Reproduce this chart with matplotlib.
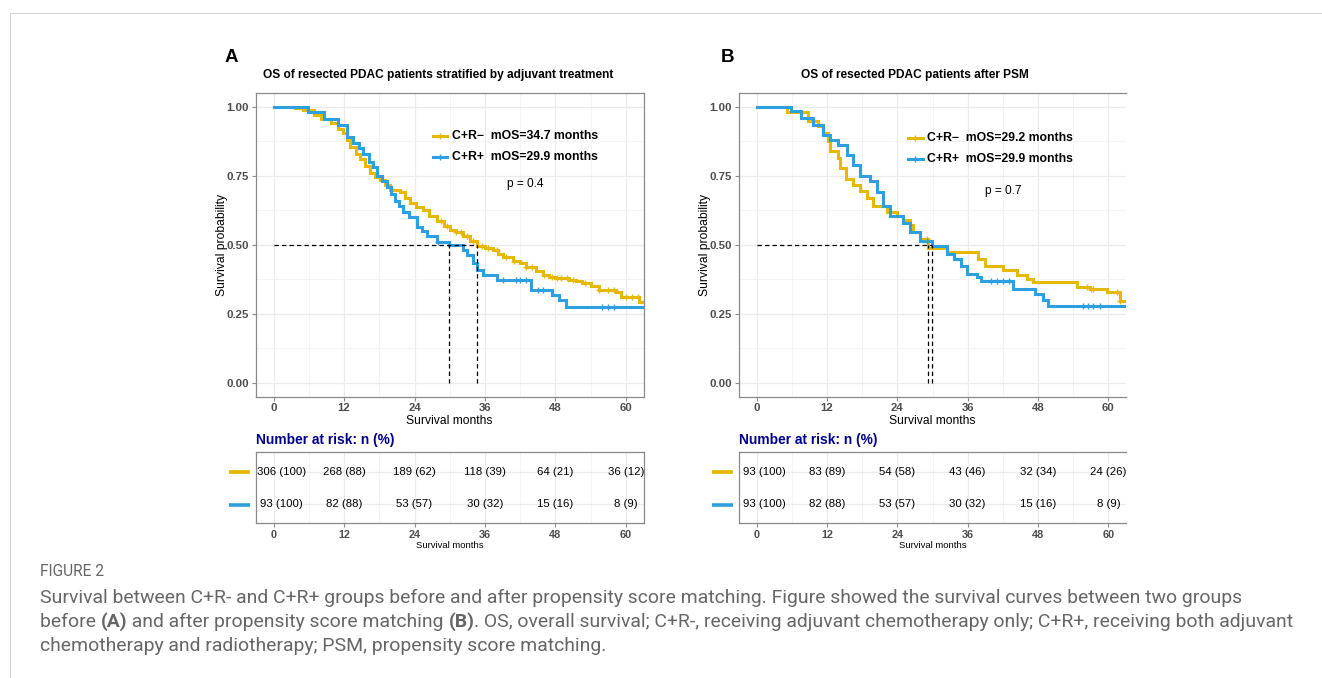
import matplotlib
matplotlib.use('Agg')
import matplotlib.pyplot as plt
from matplotlib.lines import Line2D
import numpy as np

plt.rcParams['font.family'] = ['Liberation Sans', 'DejaVu Sans']

W, H = 1322, 678
YEL = '#E7B800'
BLU = '#2E9FDF'
GRAY_TXT = '#4D4D4D'
CAP = '#666666'

# ---- panel A: before PSM (time in months, survival) ----
a_yel_t = [0, 3.7, 5.0, 6.8, 8.0, 9.7, 11.0, 11.9, 12.5, 13.0, 14.0, 14.7, 15.5, 16.4,
           17.2, 18.1, 19.0, 19.8, 21.5, 22.3, 23.2, 24.3, 25.4, 26.5, 27.8, 29.0,
           30.0, 31.0, 32.2, 33.5, 34.7, 36.0, 37.3, 38.2, 39.0, 40.7, 41.9, 43.0,
           44.7, 45.8, 46.9, 48.0, 50.3, 51.5, 52.5, 54.0, 55.4, 56.5, 58.3, 59.2,
           62.2, 70]
a_yel_s = [1.0, 0.995, 0.99, 0.97, 0.955, 0.94, 0.92, 0.905, 0.88, 0.855, 0.83, 0.81,
           0.785, 0.76, 0.745, 0.735, 0.715, 0.70, 0.69, 0.67, 0.65, 0.637, 0.627,
           0.605, 0.585, 0.568, 0.555, 0.545, 0.53, 0.515, 0.497, 0.49, 0.48, 0.468,
           0.457, 0.44, 0.435, 0.42, 0.405, 0.392, 0.384, 0.38, 0.373, 0.367, 0.362,
           0.352, 0.337, 0.335, 0.33, 0.312, 0.293, 0.293]
a_yel_cens = [28.5, 29.5, 31.0, 32.0, 33.0, 34.0, 35.5, 36.5, 38.0, 39.5, 41.0, 43.0,
              44.0, 46.0, 47.5, 48.3, 49.0, 50.0, 51.0, 53.0, 55.5, 57.0, 58.0, 60.0,
              61.0, 62.0]
a_blu_t = [0, 5.8, 8.5, 11.0, 12.5, 13.6, 14.5, 15.3, 16.2, 17.0, 17.6, 18.5, 19.3,
           20.0, 20.7, 21.4, 22.0, 23.0, 24.4, 25.2, 26.1, 27.8, 29.9, 32.3, 32.9,
           33.9, 34.7, 35.6, 38.0, 43.9, 47.5, 48.6, 49.8, 70]
a_blu_s = [1.0, 0.982, 0.957, 0.935, 0.89, 0.87, 0.85, 0.83, 0.80, 0.78, 0.75, 0.73,
           0.71, 0.685, 0.66, 0.64, 0.62, 0.60, 0.565, 0.55, 0.53, 0.51, 0.50, 0.48,
           0.464, 0.435, 0.41, 0.39, 0.373, 0.337, 0.319, 0.30, 0.275, 0.275]
a_blu_cens = [28.0, 39.0, 41.3, 42.0, 43.0, 45.0, 45.8, 56.0, 57.0, 58.0]
a_median = [34.7, 29.9]
a_pval = 'p = 0.4'
a_labels = ['C+R\u2212  mOS=34.7 months', 'C+R+  mOS=29.9 months']
a_risk_yel = ['306 (100)', '268 (88)', '189 (62)', '118 (39)', '64 (21)', '36 (12)']
a_risk_blu = ['93 (100)', '82 (88)', '53 (57)', '30 (32)', '15 (16)', '8 (9)']

# ---- panel B: after PSM ----
b_yel_t = [0, 5.2, 8.7, 10.4, 11.4, 12.1, 12.6, 13.8, 14.3, 15.2, 16.5, 17.7, 18.9,
           19.8, 22.3, 24.0, 25.0, 26.2, 26.7, 27.9, 29.2, 32.5, 37.8, 39.0, 42.0,
           44.4, 46.2, 47.2, 54.7, 56.9, 59.8, 62.0, 70]
b_yel_s = [1.0, 0.98, 0.95, 0.93, 0.905, 0.875, 0.84, 0.814, 0.777, 0.74, 0.715,
           0.693, 0.668, 0.642, 0.62, 0.605, 0.588, 0.57, 0.547, 0.52, 0.49, 0.475,
           0.449, 0.424, 0.41, 0.39, 0.376, 0.364, 0.346, 0.34, 0.328, 0.296, 0.296]
b_yel_cens = [29.0, 56.4, 57.0, 57.4, 61.5, 62.0]
b_blu_t = [0, 5.8, 7.5, 9.7, 11.4, 12.6, 13.8, 15.5, 16.5, 17.7, 19.4, 20.6, 21.6,
           22.8, 25.0, 26.2, 27.9, 29.9, 32.5, 33.6, 34.8, 35.9, 37.6, 38.2, 43.8,
           47.5, 48.9, 49.7, 70]
b_blu_s = [1.0, 0.985, 0.96, 0.934, 0.898, 0.88, 0.86, 0.825, 0.79, 0.75, 0.73, 0.69,
           0.64, 0.605, 0.58, 0.547, 0.515, 0.496, 0.467, 0.45, 0.424, 0.394, 0.383,
           0.37, 0.34, 0.32, 0.30, 0.277, 0.277]
b_blu_cens = [29.0, 39.9, 41.0, 42.0, 43.0, 55.7, 56.5, 57.3, 58.6]
b_median = [29.2, 29.9]
b_pval = 'p = 0.7'
b_labels = ['C+R\u2212  mOS=29.2 months', 'C+R+  mOS=29.9 months']
b_risk_yel = ['93 (100)', '83 (89)', '54 (58)', '43 (46)', '32 (34)', '24 (26)']
b_risk_blu = ['93 (100)', '82 (88)', '53 (57)', '30 (32)', '15 (16)', '8 (9)']

risk_times = [0, 12, 24, 36, 48, 60]
x_ticks = [0, 12, 24, 36, 48, 60]
y_ticks = [0.0, 0.25, 0.5, 0.75, 1.0]

fig = plt.figure(figsize=(W / 100, H / 100), dpi=100)


def box(l, t, r, b):
    return [l / W, 1 - b / H, (r - l) / W, (b - t) / H]


def style_axes(ax, right_spine=True):
    ax.set_xlim(-3, 63)
    ax.set_xticks(x_ticks)
    ax.set_xticks([6, 18, 30, 42, 54], minor=True)
    for s in ax.spines.values():
        s.set_color('#8a8a8a')
        s.set_linewidth(0.9)
    if not right_spine:
        ax.spines['right'].set_visible(False)
    ax.grid(True, which='major', color='#ebebeb', lw=0.9, zorder=0)
    ax.grid(True, which='minor', color='#f3f3f3', lw=0.6, zorder=0)
    ax.set_axisbelow(True)
    ax.tick_params(which='major', length=3, color='#8a8a8a', labelsize=8.2,
                   labelcolor=GRAY_TXT, pad=2)
    ax.tick_params(which='minor', length=0)


def surv_at(t, s, x):
    i = np.searchsorted(t, x, side='right') - 1
    return np.asarray(s)[i]


def km_panel(axbox, tabbox, curves, medians, labels, pval, pval_xy, leg_xy,
             risk, letter, letter_x, title, title_x, ylab_x, right_spine=True):
    ax = fig.add_axes(box(*axbox))
    style_axes(ax, right_spine)
    ax.set_ylim(-0.05, 1.05)
    ax.set_yticks(y_ticks)
    ax.set_yticklabels(['0.00', '0.25', '0.50', '0.75', '1.00'])
    ax.set_yticks([0.125, 0.375, 0.625, 0.875], minor=True)
    for lab in ax.get_xticklabels() + ax.get_yticklabels():
        lab.set_fontweight('bold')

    for (t, s, cens, col) in curves:
        ax.step(t, s, where='post', color=col, lw=2.2, zorder=3, solid_joinstyle='miter')
        ax.plot(cens, surv_at(t, s, cens), ls='none', marker='+', ms=5, mew=1,
                color=col, zorder=4)

    # median lines
    ax.plot([0, max(medians)], [0.5, 0.5], color='black', ls=(0, (3.5, 2.5)), lw=0.9, zorder=5)
    for m in medians:
        ax.plot([m, m], [0, 0.5], color='black', ls=(0, (3.5, 2.5)), lw=0.9, zorder=5)

    # legend keys
    lx0, lx1, ltx, ly0, ly1 = leg_xy
    for (col, lab, yy) in zip([curves[0][3], curves[1][3]], labels, [ly0, ly1]):
        ax.plot([lx0, lx1], [yy, yy], color=col, lw=2.2, zorder=6)
        ax.plot([(lx0 + lx1) / 2], [yy], marker='+', ms=5, mew=1, color=col, zorder=6)
        ax.text(ltx, yy, lab, fontsize=8.8, fontweight='bold', va='center', ha='left')
    ax.text(pval_xy[0], pval_xy[1], pval, fontsize=8.6, ha='center', va='center')

    ax.set_xlabel('Survival months', fontsize=8.7, labelpad=1)
    fig.text(ylab_x / W, 1 - 245 / H, 'Survival probability', rotation=90,
             fontsize=8.7, ha='center', va='center')
    fig.text(letter_x / W, 1 - 57 / H, letter, fontsize=13.5, fontweight='bold',
             ha='left', va='center')
    fig.text(title_x / W, 1 - 75 / H, title, fontsize=8.6, fontweight='bold',
             ha='center', va='center')

    # risk table
    at = fig.add_axes(box(*tabbox))
    style_axes(at, right_spine)
    at.set_ylim(0.42, 2.62)
    at.set_yticks([1, 2])
    at.set_yticklabels([])
    at.tick_params(axis='y', length=0)
    at.tick_params(axis='x', labelsize=7.8)
    for lab in at.get_xticklabels():
        lab.set_fontweight('bold')
    at.set_xlabel('Survival months', fontsize=6.8, labelpad=1)
    for row, vals in ((2, risk[0]), (1, risk[1])):
        for tt, v in zip(risk_times, vals):
            xx = tt + 1.4 if tt == 0 else tt
            txt = at.text(xx, row, v, fontsize=8.2, ha='center', va='center')
            txt.set_clip_on(True)
    l, t, r, b = tabbox
    for col, yy in ((curves[0][3], 471.5), (curves[1][3], 504.5)):
        fig.add_artist(Line2D([(l - 27) / W, (l - 6) / W], [1 - yy / H, 1 - yy / H],
                              color=col, lw=2.6, solid_capstyle='butt'))
    fig.text(l / W, 1 - 440 / H, 'Number at risk: n (%)', fontsize=9.9,
             fontweight='bold', color='#00008B', ha='left', va='center')
    return ax


km_panel((256, 93, 643.5, 396.5), (256, 452, 643.5, 522.7),
         [(a_yel_t, a_yel_s, a_yel_cens, YEL), (a_blu_t, a_blu_s, a_blu_cens, BLU)],
         a_median, a_labels, a_pval, (42.8, 0.72), (27.1, 29.5, 30.4, 0.893, 0.818),
         (a_risk_yel, a_risk_blu), 'A', 225,
         'OS of resected PDAC patients stratified by adjuvant treatment', 438.5, 222)

km_panel((739, 93, 1126, 396.5), (739, 452, 1126, 522.7),
         [(b_yel_t, b_yel_s, b_yel_cens, YEL), (b_blu_t, b_blu_s, b_blu_cens, BLU)],
         b_median, b_labels, b_pval, (42.1, 0.696), (25.8, 28.3, 29.1, 0.888, 0.812),
         (b_risk_yel, b_risk_blu), 'B', 721,
         'OS of resected PDAC patients after PSM', 915, 705, right_spine=False)

# page frame
fig.add_artist(Line2D([10 / W, 1], [1 - 13 / H, 1 - 13 / H], color='#d4d4d4', lw=0.8))
fig.add_artist(Line2D([10 / W, 10 / W], [0, 1 - 13 / H], color='#d4d4d4', lw=0.8))

# caption
cap_font = ['Liberation Sans Narrow', 'Roboto', 'DejaVu Sans']
cap_lines = [
    [('Survival between C+R- and C+R+ groups before and after propensity score matching. '
      'Figure showed the survival curves between two groups', 'normal')],
    [('before ', 'normal'), ('(A)', 'bold'),
     (' and after propensity score matching ', 'normal'), ('(B)', 'bold'),
     ('. OS, overall survival; C+R-, receiving adjuvant chemotherapy only; C+R+, '
      'receiving both adjuvant', 'normal')],
    [('chemotherapy and radiotherapy; PSM, propensity score matching.', 'normal')],
]
renderer = fig.canvas.get_renderer()
probe = fig.text(0, 0, cap_lines[0][0][0], fontsize=10, family=cap_font)
w10 = probe.get_window_extent(renderer=renderer).width
probe.remove()
cap_size = 10 * 1205 / w10

fig.text(40 / W, 1 - 572 / H, 'FIGURE 2', fontsize=cap_size * 0.8, family=cap_font,
         color=CAP, ha='left', va='center')
for i, runs in enumerate(cap_lines):
    x = 40
    y = 598 + 24 * i
    for txt, wt in runs:
        tt = fig.text(x / W, 1 - y / H, txt, fontsize=cap_size, fontweight=wt,
                      family=cap_font, color=CAP, ha='left', va='center')
        x += tt.get_window_extent(renderer=renderer).width

fig.savefig('out.png', dpi=100)
